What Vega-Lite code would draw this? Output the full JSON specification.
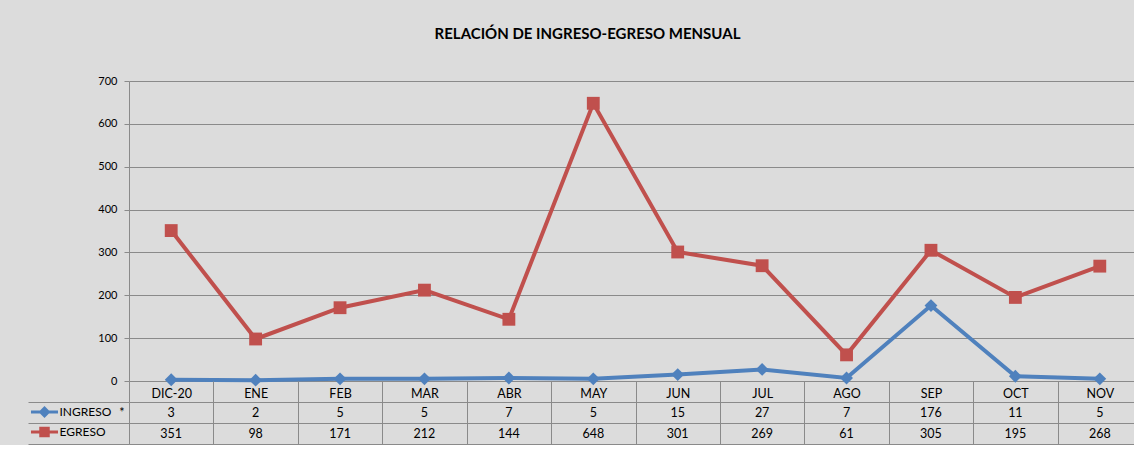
{
  "$schema": "https://vega.github.io/schema/vega-lite/v6.json",
  "background": "#dcdcdc",
  "padding": {"left": 27, "top": 27, "right": 0, "bottom": 0},
  "autosize": {"type": "pad"},
  "spacing": 21,
  "bounds": "flush",
  "config": {"font": "Lato", "view": {"stroke": null}},
  "data": {
    "values": [
      {"mes": "DIC-20", "INGRESO": 3, "EGRESO": 351},
      {"mes": "ENE", "INGRESO": 2, "EGRESO": 98},
      {"mes": "FEB", "INGRESO": 5, "EGRESO": 171},
      {"mes": "MAR", "INGRESO": 5, "EGRESO": 212},
      {"mes": "ABR", "INGRESO": 7, "EGRESO": 144},
      {"mes": "MAY", "INGRESO": 5, "EGRESO": 648},
      {"mes": "JUN", "INGRESO": 15, "EGRESO": 301},
      {"mes": "JUL", "INGRESO": 27, "EGRESO": 269},
      {"mes": "AGO", "INGRESO": 7, "EGRESO": 61},
      {"mes": "SEP", "INGRESO": 176, "EGRESO": 305},
      {"mes": "OCT", "INGRESO": 11, "EGRESO": 195},
      {"mes": "NOV", "INGRESO": 5, "EGRESO": 268}
    ]
  },
  "vconcat": [
    {
      "width": 1013,
      "height": 300,
      "title": {
        "text": "RELACIÓN DE INGRESO-EGRESO MENSUAL",
        "fontSize": 15,
        "fontWeight": "bold",
        "color": "#000000",
        "anchor": "middle",
        "frame": "group",
        "dx": -48,
        "offset": 33
      },
      "transform": [{"fold": ["INGRESO", "EGRESO"], "as": ["serie", "valor"]}],
      "encoding": {
        "x": {
          "field": "mes",
          "type": "nominal",
          "sort": null,
          "scale": {"paddingInner": 0, "paddingOuter": 0},
          "axis": {
            "title": null,
            "domain": false,
            "ticks": true,
            "tickBand": "extent",
            "tickSize": 21,
            "tickColor": "#8a8a8a",
            "grid": false,
            "zindex": 1,
            "labelAngle": 0,
            "labelFontSize": 12.5,
            "labelColor": "#000000",
            "labelPadding": -15
          }
        },
        "y": {
          "field": "valor",
          "type": "quantitative",
          "scale": {"domain": [0, 700], "nice": false},
          "axis": {
            "title": null,
            "values": [0, 100, 200, 300, 400, 500, 600, 700],
            "grid": true,
            "gridColor": "#8a8a8a",
            "gridOpacity": 1,
            "domain": true,
            "domainColor": "#8a8a8a",
            "tickColor": "#8a8a8a",
            "tickSize": 5,
            "labelPadding": 7,
            "labelFontSize": 11,
            "labelColor": "#000000"
          }
        },
        "color": {
          "field": "serie",
          "type": "nominal",
          "scale": {"domain": ["INGRESO", "EGRESO"], "range": ["#4f81bd", "#c0504d"]},
          "legend": null
        }
      },
      "layer": [
        {"mark": {"type": "line", "strokeWidth": 4}, "encoding": {"order": {"value": null}}},
        {
          "mark": {"type": "point", "filled": true, "opacity": 1},
          "encoding": {
            "shape": {
              "field": "serie",
              "type": "nominal",
              "scale": {"domain": ["INGRESO", "EGRESO"], "range": ["diamond", "square"]},
              "legend": null
            },
            "size": {"value": 165}
          }
        }
      ]
    },
    {
      "width": 1013,
      "height": 42,
      "transform": [{"fold": ["INGRESO", "EGRESO"], "as": ["serie", "valor"]}],
      "encoding": {
        "x": {
          "field": "mes",
          "type": "nominal",
          "sort": null,
          "scale": {"paddingInner": 0, "paddingOuter": 0},
          "axis": {
            "title": null,
            "labels": false,
            "ticks": false,
            "domain": false,
            "grid": true,
            "tickBand": "extent",
            "gridColor": "#8a8a8a",
            "gridOpacity": 1,
            "zindex": 1
          }
        }
      },
      "layer": [
        {
          "mark": {"type": "text", "fontSize": 12.5, "color": "#000000"},
          "encoding": {
            "y": {
              "field": "serie",
              "type": "nominal",
              "scale": {"domain": ["INGRESO", "EGRESO"], "paddingInner": 0, "paddingOuter": 0},
              "axis": {
                "title": null,
                "tickBand": "extent",
                "grid": true,
                "gridColor": "#8a8a8a",
                "gridOpacity": 1,
                "domain": true,
                "domainColor": "#8a8a8a",
                "tickColor": "#8a8a8a",
                "tickSize": 101,
                "ticks": true,
                "zindex": 1,
                "labelExpr": "datum.value == 'INGRESO' ? '*' : ''",
                "labelPadding": -96,
                "labelFontSize": 12.5,
                "labelColor": "#000000"
              }
            },
            "text": {"field": "valor", "type": "quantitative"}
          }
        },
        {
          "mark": {"type": "point", "filled": true, "opacity": 0},
          "encoding": {
            "y": {
              "field": "serie",
              "type": "nominal",
              "scale": {"domain": ["INGRESO", "EGRESO"], "paddingInner": 0, "paddingOuter": 0},
              "axis": {
                "title": null,
                "labels": false,
                "ticks": false,
                "grid": false,
                "domain": true,
                "domainColor": "#8a8a8a",
                "zindex": 1
              }
            },
            "color": {
              "field": "serie",
              "type": "nominal",
              "scale": {"domain": ["INGRESO", "EGRESO"], "range": ["#4f81bd", "#c0504d"]},
              "legend": {
                "orient": "none",
                "legendX": -91.5,
                "legendY": 3,
                "title": null,
                "padding": 0,
                "rowPadding": 7,
                "symbolSize": 196,
                "symbolOpacity": 1,
                "symbolStrokeWidth": 0,
                "labelFontSize": 12,
                "labelOffset": 8,
                "labelColor": "#000000"
              }
            },
            "shape": {
              "field": "serie",
              "type": "nominal",
              "scale": {
                "domain": ["INGRESO", "EGRESO"],
                "range": [
                  "M-1.93,-0.21H1.93V0.21H-1.93Z M0,-0.85L0.85,0L0,0.85L-0.85,0Z",
                  "M-1.93,-0.21H1.93V0.21H-1.93Z M-0.75,-0.75H0.75V0.75H-0.75Z"
                ]
              },
              "legend": {
                "orient": "none",
                "legendX": -91.5,
                "legendY": 3,
                "title": null,
                "padding": 0,
                "rowPadding": 7,
                "symbolSize": 196,
                "symbolOpacity": 1,
                "symbolStrokeWidth": 0,
                "labelFontSize": 12,
                "labelOffset": 8,
                "labelColor": "#000000"
              }
            }
          }
        }
      ],
      "resolve": {"axis": {"y": "independent"}}
    }
  ],
  "resolve": {
    "scale": {"color": "independent", "shape": "independent", "x": "independent", "y": "independent"},
    "legend": {"color": "independent", "shape": "independent"}
  }
}
